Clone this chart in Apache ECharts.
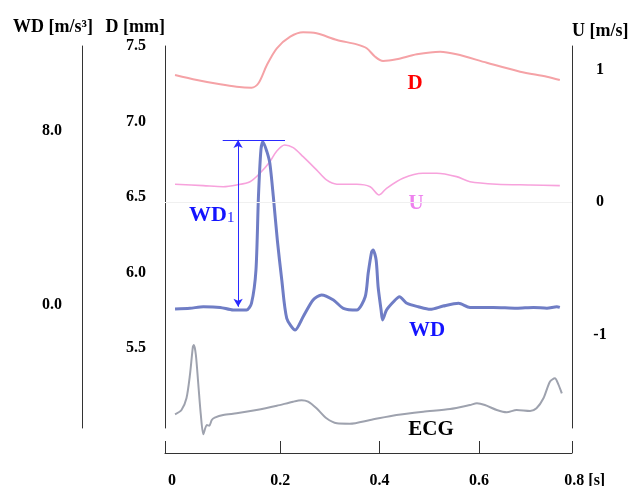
<!DOCTYPE html>
<html>
<head>
<meta charset="utf-8">
<title>D, U, WD and ECG</title>
<script src="https://cdn.jsdelivr.net/npm/echarts@6/dist/echarts.min.js"></script>
<style>
  html, body { margin: 0; padding: 0; background: #fff; }
  #chart { width: 630px; height: 486px; }
</style>
</head>
<body>
<div id="chart"></div>
<script>
// diameter D [mm]
const dTime = [-0.012, 0.032, 0.079, 0.112, 0.142, 0.156, 0.173, 0.193, 0.220, 0.246, 0.273, 0.314,
  0.354, 0.374, 0.391, 0.407, 0.434, 0.475, 0.522, 0.555, 0.616, 0.683, 0.737, 0.763]
const dValues = [7.308, 7.275, 7.246, 7.230, 7.224, 7.253, 7.374, 7.485, 7.562, 7.591, 7.584, 7.540,
  7.511, 7.485, 7.429, 7.401, 7.412, 7.445, 7.462, 7.445, 7.389, 7.330, 7.297, 7.275]

// velocity U [m/s]
const uTime = [-0.012, 0.045, 0.085, 0.112, 0.139, 0.159, 0.179, 0.193, 0.209, 0.226, 0.246, 0.273, 0.293,
  0.314, 0.354, 0.381, 0.399, 0.414, 0.447, 0.487, 0.515, 0.555, 0.582, 0.636, 0.703, 0.763]
const uValues = [0.134, 0.123, 0.115, 0.128, 0.153, 0.217, 0.304, 0.385, 0.430, 0.410, 0.342, 0.242, 0.166,
  0.134, 0.134, 0.115, 0.053, 0.103, 0.179, 0.217, 0.217, 0.191, 0.153, 0.134, 0.128, 0.123]

// wave intensity WD [m/s^3]
const wdTime = [-0.012, 0.018, 0.045, 0.079, 0.105, 0.132, 0.142, 0.151, 0.156, 0.161, 0.165, 0.173,
  0.179, 0.186, 0.194, 0.203, 0.213, 0.230, 0.246, 0.266, 0.283, 0.307, 0.327, 0.354, 0.371, 0.377,
  0.384, 0.387, 0.393, 0.397, 0.403, 0.406, 0.414, 0.428, 0.440, 0.455, 0.478, 0.502, 0.528, 0.559,
  0.582, 0.629, 0.676, 0.710, 0.737, 0.757, 0.763]
const wdValues = [-0.18, -0.15, -0.08, -0.11, -0.23, -0.23, 0.08, 1.61, 4.98, 7.13, 7.51, 7.05,
  6.51, 4.98, 2.99, 1.15, -0.61, -1.15, -0.54, 0.23, 0.46, 0.23, -0.15, -0.23, 0.38, 1.46,
  2.45, 2.53, 2.07, 0.84, -0.23, -0.69, -0.23, 0.15, 0.38, 0.08, -0.08, -0.20, -0.05, 0.08,
  -0.11, -0.11, -0.15, -0.11, -0.15, -0.08, -0.11]

// ECG (no scale shown)
const ecgTime = [-0.012, 0.001, 0.011, 0.018, 0.024, 0.026, 0.030, 0.035, 0.040, 0.045, 0.052, 0.057,
  0.062, 0.068, 0.085, 0.112, 0.152, 0.193, 0.226, 0.243, 0.256, 0.273, 0.293, 0.314, 0.340, 0.381,
  0.434, 0.488, 0.542, 0.582, 0.596, 0.612, 0.636, 0.656, 0.676, 0.703, 0.716, 0.730, 0.743, 0.753,
  0.760, 0.767]
const ecgValues = [-0.086, 0, 0.234, 0.70, 1.266, 1.30, 1.10, 0.50, -0.10, -0.486, -0.30, -0.314,
  -0.20, -0.154, -0.10, -0.066, 0, 0.086, 0.166, 0.194, 0.166, 0.034, -0.166, -0.266, -0.274, -0.20,
  -0.10, -0.034, 0.02, 0.10, 0.134, 0.10, 0, -0.046, 0, -0.02, 0.034, 0.234, 0.566, 0.634,
  0.514, 0.334]

// WD1 marker: peak level, baseline, time of the arrow
const wd1Peak = 7.59
const wd1Base = -0.08
const wd1Time = 0.115
const wd1Span = [0.084, 0.2095]

// tick labels
const timeLabels = ['0', '0.2', '0.4', '0.6', '0.8 [s]']
const dTicks = [5.5, 6.0, 6.5, 7.0, 7.5]
const wdTicks = [0, 8]
const uTicks = [-1, 0, 1]

const serif = '"Liberation Serif", "DejaVu Serif", serif'
const zip = (xs, ys) => xs.map((x, i) => [x, ys[i]])

// the source figure puts "0" and "0.8 [s]" a bit off their ticks
const timeLabelAt = [-0.018, 0.2, 0.4, 0.6, 0.787]

const chart = echarts.init(document.getElementById('chart'))

const axisLine = { show: true, onZero: false, lineStyle: { color: '#333', width: 1 } }
const labelStyle = { fontFamily: serif, fontWeight: 'bold', fontSize: 16, color: '#000' }
const nameStyle = { fontFamily: serif, fontWeight: 'bold', fontSize: 18, color: '#000' }
const markBlue = { color: '#2a2aff', width: 1, type: 'solid' }

const option = {
  animation: false,
  backgroundColor: '#fff',
  grid: { left: 165, right: 58, top: 46, bottom: 58, outerBoundsMode: 'none' },
  xAxis: {
    type: 'value',
    min: -0.0322,
    max: 0.7875,
    offset: 25,
    axisLine: axisLine,
    axisTick: {
      show: true,
      inside: true,
      length: 12,
      lineStyle: { color: '#333' },
      customValues: [-0.0322, 0.2, 0.4, 0.6, 0.7875]
    },
    axisLabel: Object.assign({}, labelStyle, {
      customValues: timeLabelAt,
      margin: 20,
      formatter: function (v) {
        let k = 0
        timeLabelAt.forEach((p, i) => { if (Math.abs(p - v) < Math.abs(timeLabelAt[k] - v)) k = i })
        return k === timeLabels.length - 1 ? '{e|' + timeLabels[k] + '}' : timeLabels[k]
      },
      rich: { e: { padding: [0, 0, 0, 26], fontFamily: serif, fontWeight: 'bold', fontSize: 16, color: '#000' } }
    }),
    splitLine: { show: false }
  },
  yAxis: [
    {
      // D
      type: 'value',
      position: 'left',
      min: 4.97,
      max: 7.5,
      name: 'D [mm]',
      nameLocation: 'end',
      nameGap: 10,
      nameTextStyle: Object.assign({}, nameStyle, { align: 'right' }),
      axisLine: axisLine,
      axisTick: { show: false },
      axisLabel: Object.assign({}, labelStyle, {
        customValues: dTicks,
        margin: 19,
        formatter: v => v.toFixed(1)
      }),
      splitLine: { show: false }
    },
    {
      // WD
      type: 'value',
      position: 'left',
      offset: 83,
      min: -5.655,
      max: 11.908,
      name: 'WD [m/s³]',
      nameLocation: 'end',
      nameGap: 10,
      nameTextStyle: Object.assign({}, nameStyle, { align: 'center', padding: [0, 58, 0, 0] }),
      axisLine: axisLine,
      axisTick: { show: false },
      axisLabel: Object.assign({}, labelStyle, {
        customValues: wdTicks,
        margin: 30,
        align: 'center',
        formatter: v => v.toFixed(1)
      }),
      splitLine: { show: false }
    },
    {
      // U
      type: 'value',
      position: 'right',
      min: -1.706,
      max: 1.177,
      name: 'U [m/s]',
      nameLocation: 'end',
      nameGap: 6,
      nameTextStyle: Object.assign({}, nameStyle, { align: 'left' }),
      axisLine: axisLine,
      axisTick: { show: false },
      axisLabel: Object.assign({}, labelStyle, {
        customValues: uTicks,
        margin: 28,
        align: 'center'
      }),
      splitLine: { show: false }
    },
    {
      // ECG, no axis drawn
      type: 'value',
      show: false,
      min: -0.36,
      max: 7.28
    }
  ],
  series: [
    {
      name: 'D',
      type: 'line',
      yAxisIndex: 0,
      data: zip(dTime, dValues),
      smooth: 0.3,
      symbol: 'none',
      clip: false,
      lineStyle: { color: '#f5a2a6', width: 2 }
    },
    {
      name: 'U',
      type: 'line',
      yAxisIndex: 2,
      data: zip(uTime, uValues),
      smooth: 0.3,
      symbol: 'none',
      clip: false,
      lineStyle: { color: '#f7a2dc', width: 1.6 },
      markLine: {
        silent: true,
        symbol: ['none', 'none'],
        label: { show: false },
        lineStyle: { color: '#f0f0f0', width: 1, type: 'solid' },
        data: [{ yAxis: 0 }]
      }
    },
    {
      name: 'WD',
      type: 'line',
      yAxisIndex: 1,
      data: zip(wdTime, wdValues),
      smooth: 0.25,
      symbol: 'none',
      clip: false,
      lineStyle: { color: '#6f7dc5', width: 3 },
      markLine: {
        silent: true,
        symbolSize: [7, 8],
        label: { show: false },
        lineStyle: markBlue,
        data: [
          [{ coord: [wd1Span[0], wd1Peak], symbol: 'none', lineStyle: markBlue },
           { coord: [wd1Span[1], wd1Peak], symbol: 'none', lineStyle: markBlue }],
          [{ coord: [wd1Time, wd1Peak], symbol: 'arrow', lineStyle: markBlue, itemStyle: { color: '#2a2aff' } },
           { coord: [wd1Time, wd1Base], symbol: 'arrow', lineStyle: markBlue, itemStyle: { color: '#2a2aff' } }]
        ]
      }
    },
    {
      name: 'ECG',
      type: 'line',
      yAxisIndex: 3,
      data: zip(ecgTime, ecgValues),
      smooth: 0.25,
      symbol: 'none',
      clip: false,
      lineStyle: { color: '#9ea2ae', width: 2 }
    }
  ],
  graphic: [
    { type: 'text', x: 415, y: 84, style: { text: 'D', fill: '#ff0000', font: 'bold 21px ' + serif, align: 'center', verticalAlign: 'middle' } },
    { type: 'text', x: 416, y: 204, style: { text: 'U', fill: '#ee82ee', font: 'bold 21px ' + serif, align: 'center', verticalAlign: 'middle' } },
    { type: 'text', x: 427, y: 331, style: { text: 'WD', fill: '#1414ff', font: 'bold 21px ' + serif, align: 'center', verticalAlign: 'middle' } },
    { type: 'text', x: 431, y: 430, style: { text: 'ECG', fill: '#000', font: 'bold 21px ' + serif, align: 'center', verticalAlign: 'middle' } },
    {
      type: 'text', x: 189, y: 215,
      style: {
        text: '{a|WD}{b|1}',
        align: 'left',
        verticalAlign: 'middle',
        rich: {
          a: { fontFamily: serif, fontWeight: 'bold', fontSize: 22, fill: '#1414ff' },
          b: { fontFamily: serif, fontWeight: 'normal', fontSize: 15, fill: '#1414ff', verticalAlign: 'bottom' }
        }
      }
    }
  ]
}

chart.setOption(option)
</script>
</body>
</html>
